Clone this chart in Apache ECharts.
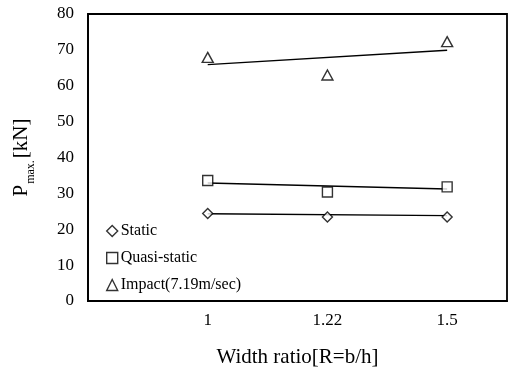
<!DOCTYPE html>
<html>
<head>
<meta charset="utf-8">
<script src="https://cdn.jsdelivr.net/npm/echarts@6/dist/echarts.min.js"></script>
<style>
  html, body { margin: 0; padding: 0; background: #fff; }
  #chart { width: 512px; height: 376px; }
</style>
</head>
<body>
<div id="chart"></div>
<script>
// width ratio categories (placed at x = 1, 2, 3)
const categories = ['1', '1.22', '1.5'];
const yTicks = [0, 10, 20, 30, 40, 50, 60, 70, 80];

// measured P max [kN]
const staticVals = [24.4, 23.4, 23.4];
const quasiVals = [33.6, 30.4, 31.8];
const impactVals = [67.9, 63.0, 72.3];

// linear trend line end points (at first and last category)
const staticTrend = [24.3, 23.8];
const quasiTrend = [32.9, 31.2];
const impactTrend = [65.9, 69.9];

const serif = 'Liberation Serif';

const toPoints = vals => vals.map((v, i) => [i + 1, v]);
const toTrend = ends => [[1, ends[0]], [categories.length, ends[1]]];

const markerStyle = { color: '#fff', borderColor: '#000', borderWidth: 1.4 };
const trendStyle = { color: '#000', width: 1.4 };

const chart = echarts.init(document.getElementById('chart'));

const option = {
  animation: false,
  grid: {
    left: 88, top: 14, right: 5, bottom: 75,
    show: true, borderColor: '#000', borderWidth: 1.8
  },
  legend: {
    orient: 'vertical',
    left: 101, top: 218,
    itemWidth: 11, itemHeight: 11,
    itemGap: 11,
    textStyle: { fontFamily: serif, fontSize: 16, color: '#000', padding: [0, 0, 0, -2] },
    data: [
      { name: 'Static', icon: 'diamond' },
      { name: 'Quasi-static', icon: 'rect' },
      { name: 'Impact(7.19m/sec)', icon: 'triangle' }
    ],
    itemStyle: markerStyle
  },
  xAxis: {
    type: 'value',
    min: 0, max: 3.5, interval: 1,
    name: 'Width ratio[R=b/h]',
    nameLocation: 'middle',
    nameGap: 46,
    nameTextStyle: { fontFamily: serif, fontSize: 21, color: '#000' },
    axisLine: { lineStyle: { color: '#000', width: 1.8 } },
    axisTick: { show: false },
    splitLine: { show: false },
    axisLabel: {
      fontFamily: serif, fontSize: 17, color: '#000', margin: 11,
      showMaxLabel: false, showMinLabel: false,
      formatter: v => (Number.isInteger(v) && v >= 1 && v <= categories.length) ? categories[v - 1] : ''
    }
  },
  yAxis: {
    type: 'value',
    min: yTicks[0], max: yTicks[yTicks.length - 1], interval: 10,
    name: '{p|P}{s|max.}{p|[kN]}',
    nameLocation: 'middle',
    nameGap: 56,
    nameRotate: 90,
    nameTextStyle: {
      color: '#000',
      rich: {
        p: { fontFamily: serif, fontSize: 21, color: '#000', verticalAlign: 'bottom' },
        s: { fontFamily: serif, fontSize: 12, color: '#000', verticalAlign: 'bottom', padding: [0, 2, -5, 1] }
      }
    },
    axisLine: { show: true, lineStyle: { color: '#000', width: 1.8 } },
    axisTick: { show: false },
    splitLine: { show: false },
    axisLabel: { fontFamily: serif, fontSize: 17, color: '#000', margin: 14 }
  },
  series: [
    { name: 'Static', type: 'scatter', symbol: 'diamond', symbolSize: 10,
      itemStyle: markerStyle, data: toPoints(staticVals), z: 3 },
    { name: 'Quasi-static', type: 'scatter', symbol: 'rect', symbolSize: 10,
      itemStyle: markerStyle, data: toPoints(quasiVals), z: 3 },
    { name: 'Impact(7.19m/sec)', type: 'scatter', symbol: 'triangle', symbolSize: [11, 10],
      itemStyle: markerStyle, data: toPoints(impactVals), z: 3 },
    { type: 'line', symbol: 'none', lineStyle: trendStyle, data: toTrend(staticTrend), z: 2 },
    { type: 'line', symbol: 'none', lineStyle: trendStyle, data: toTrend(quasiTrend), z: 2 },
    { type: 'line', symbol: 'none', lineStyle: trendStyle, data: toTrend(impactTrend), z: 2 }
  ]
};

chart.setOption(option);
</script>
</body>
</html>
